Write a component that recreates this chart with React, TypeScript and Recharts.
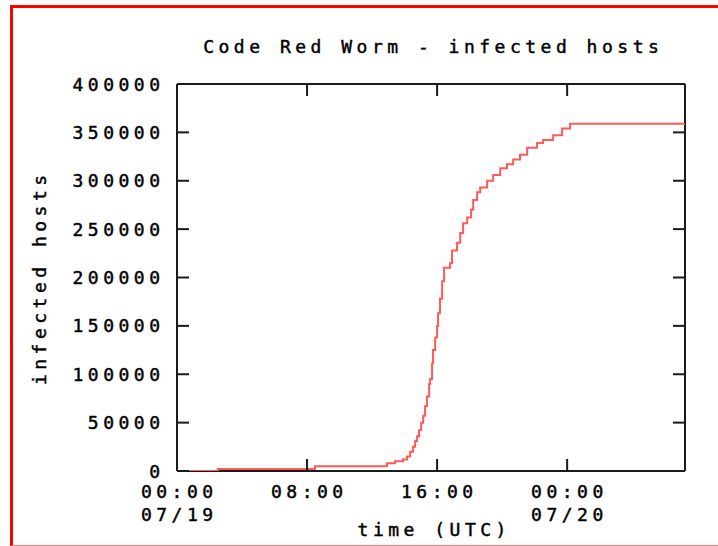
import { Line, LineChart, XAxis, YAxis } from 'recharts'

// hours since 07/19 00:00 UTC, and cumulative infected hosts (step data)
const hours = [
  0, 2.52, 8.49, 12.92, 13.4, 13.9, 14.15, 14.34, 14.52, 14.65, 14.77, 14.89,
  15.02, 15.14, 15.26, 15.38, 15.51, 15.57, 15.69, 15.75, 15.88, 16.0, 16.06,
  16.18, 16.31, 16.43, 16.8, 16.92, 17.23, 17.42, 17.6, 17.85, 18.09, 18.22,
  18.46, 18.65, 19.08, 19.45, 19.88, 20.3, 20.68, 21.1, 21.54, 22.15, 22.52,
  23.14, 23.69, 24.18, 31.25,
]
const hosts = [
  0, 2000, 5000, 8000, 10000, 12000, 15000, 20000, 25000, 31000, 36000, 42000,
  50000, 57000, 67000, 77000, 90000, 95000, 111000, 125000, 138000, 150000, 163000,
  178000, 196000, 210000, 215000, 228000, 236000, 246000, 256000, 262000, 270000, 280000,
  288000, 293000, 300000, 306000, 313000, 317000, 322000, 327000, 334000, 339000, 342000,
  347000, 354000, 359000, 359000,
]

const xTicks = [0, 8, 16, 24]
const xTimeLabels = ['00:00', '08:00', '16:00', '00:00']
const xDateLabels = ['07/19', '', '', '07/20']
const yTicks = [0, 50000, 100000, 150000, 200000, 250000, 300000, 350000, 400000]

const data = hours.map((h, i) => ({ h, hosts: hosts[i] }))

const FONT = '"DejaVu Sans Mono", monospace'
const SIZE = 18
const SPACING = 4.5
const TICK_LEN = 12
const AXIS = '#1a1a1a'

const textStyle = {
  fontFamily: FONT,
  fontSize: SIZE,
  letterSpacing: SPACING,
  fill: '#000',
  stroke: '#000',
  strokeWidth: 0.45,
}

const BottomTick = ({ x, y, payload }: any) => {
  const i = xTicks.indexOf(payload.value)
  return (
    <g>
      <line x1={x} x2={x} y1={y} y2={y - TICK_LEN} stroke={AXIS} strokeWidth={2} />
      <text x={x + SPACING / 2} y={y + 27} textAnchor="middle" style={textStyle}>{xTimeLabels[i]}</text>
      {xDateLabels[i] && (
        <text x={x + SPACING / 2} y={y + 50} textAnchor="middle" style={textStyle}>{xDateLabels[i]}</text>
      )}
    </g>
  )
}

const TopTick = ({ x, y }: any) => (
  <line x1={x} x2={x} y1={y} y2={y + TICK_LEN} stroke={AXIS} strokeWidth={2} />
)

const LeftTick = ({ x, y, payload }: any) => (
  <g>
    <line x1={x} x2={x + TICK_LEN} y1={y} y2={y} stroke={AXIS} strokeWidth={2} />
    <text x={x - 17 + SPACING} y={y + 6.5} textAnchor="end" style={textStyle}>{payload.value}</text>
  </g>
)

const RightTick = ({ x, y }: any) => (
  <line x1={x} x2={x - TICK_LEN} y1={y} y2={y} stroke={AXIS} strokeWidth={2} />
)

const label = {
  position: 'absolute' as const,
  fontFamily: FONT,
  fontSize: SIZE,
  letterSpacing: SPACING,
  color: '#000',
  WebkitTextStroke: '0.45px #000',
  whiteSpace: 'nowrap' as const,
  lineHeight: '20px',
  paddingLeft: SPACING,
}

export default function App() {
  return (
    <div style={{ position: 'fixed', left: 0, top: 0, width: 718, height: 546, background: '#fff', overflow: 'hidden' }}>
      <div
        style={{
          position: 'absolute',
          left: 10,
          top: 5,
          width: 720,
          height: 537,
          borderLeft: '3px solid #ff0000',
          borderTop: '3px solid #ff0000',
          borderBottom: '1px solid #f08080',
        }}
      />
      <LineChart
        width={718}
        height={546}
        data={data}
        margin={{ top: 54, right: 3, bottom: 45, left: 117 }}
        style={{ position: 'absolute', left: 0, top: 0 }}
      >
        <XAxis
          xAxisId="bottom"
          dataKey="h"
          type="number"
          domain={[0, 31.25]}
          ticks={xTicks}
          height={30}
          tickSize={0}
          tickMargin={0}
          tickLine={false}
          axisLine={{ stroke: AXIS, strokeWidth: 2 }}
          tick={<BottomTick />}
          interval={0}
          allowDataOverflow
        />
        <XAxis
          xAxisId="top"
          orientation="top"
          type="number"
          dataKey="h"
          domain={[0, 31.25]}
          ticks={xTicks}
          height={30}
          tickSize={0}
          tickMargin={0}
          tickLine={false}
          axisLine={{ stroke: AXIS, strokeWidth: 2 }}
          tick={<TopTick />}
          interval={0}
          allowDataOverflow
        />
        <YAxis
          yAxisId="left"
          type="number"
          domain={[0, 400000]}
          ticks={yTicks}
          width={60}
          tickSize={0}
          tickMargin={0}
          tickLine={false}
          axisLine={{ stroke: AXIS, strokeWidth: 2 }}
          tick={<LeftTick />}
          interval={0}
          allowDataOverflow
        />
        <YAxis
          yAxisId="right"
          orientation="right"
          type="number"
          domain={[0, 400000]}
          ticks={yTicks}
          width={30}
          tickSize={0}
          tickMargin={0}
          tickLine={false}
          axisLine={{ stroke: AXIS, strokeWidth: 2 }}
          tick={<RightTick />}
          interval={0}
          allowDataOverflow
        />
        <Line
          xAxisId="bottom"
          yAxisId="left"
          type="stepAfter"
          dataKey="hosts"
          stroke="#ff5a5a"
          strokeWidth={2}
          dot={false}
          activeDot={false}
          isAnimationActive={false}
          zIndex={600}
        />
      </LineChart>
      <div style={{ ...label, left: 431, top: 37, transform: 'translateX(-50%)' }}>Code Red Worm - infected hosts</div>
      <div style={{ ...label, left: 432, top: 520, transform: 'translateX(-50%)' }}>time (UTC)</div>
      <div style={{ ...label, left: 40, top: 280, transform: 'translate(-50%, -50%) rotate(-90deg)' }}>infected hosts</div>
    </div>
  )
}
